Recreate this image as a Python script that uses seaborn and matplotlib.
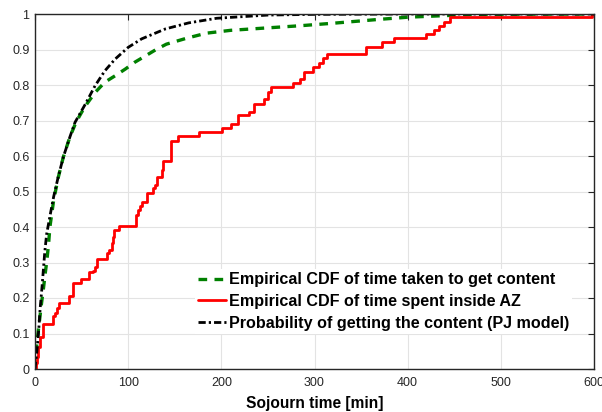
import matplotlib
matplotlib.use("Agg")
import matplotlib.pyplot as plt
import seaborn as sns
import pandas as pd

# --- data ---
red_t = [0, 1.1, 2.5, 3.6, 5.4, 8.2, 19.7, 21.5, 23.3, 26.1, 36.9, 41.2, 49.4, 58.3, 61.9,
         64.4, 66.9, 77.6, 79.8, 82.3, 84.1, 85.2, 90.2, 108.4, 110.2, 112.7, 114.5, 119.9,
         127.0, 128.8, 131.3, 136.0, 137.7, 146.0, 153.9, 176.4, 200.4, 210.0, 217.5, 230.0,
         235.3, 246.3, 250.6, 253.1, 277.4, 283.9, 288.2, 298.2, 304.3, 309.0, 313.1, 355.3,
         372.1, 385.4, 419.7, 428.3, 434.0, 439.4, 445.4, 598.0]
red_p = [0, 0.016, 0.035, 0.063, 0.091, 0.127, 0.149, 0.157, 0.171, 0.185, 0.207, 0.243,
         0.254, 0.274, 0.276, 0.288, 0.309, 0.326, 0.335, 0.354, 0.373, 0.392, 0.403, 0.434,
         0.448, 0.459, 0.471, 0.495, 0.509, 0.518, 0.540, 0.561, 0.587, 0.643, 0.656, 0.667,
         0.678, 0.690, 0.715, 0.725, 0.746, 0.760, 0.781, 0.793, 0.807, 0.816, 0.838, 0.852,
         0.863, 0.875, 0.887, 0.908, 0.920, 0.931, 0.944, 0.955, 0.966, 0.978, 0.991, 1.0]

green_t = [0, 1, 2.5, 5, 7, 9, 11, 12.5, 14.5, 16, 20, 25, 30.5, 37.5, 44, 50, 56, 64.5, 75,
           86, 97, 107, 116, 130, 141, 163, 184, 210, 250, 285, 320, 370, 400, 445, 470, 600]
green_p = [0, 0.04, 0.085, 0.14, 0.185, 0.225, 0.27, 0.30, 0.35, 0.40, 0.475, 0.54, 0.598,
           0.654, 0.695, 0.723, 0.748, 0.779, 0.808, 0.826, 0.845, 0.864, 0.878, 0.900, 0.915,
           0.932, 0.946, 0.954, 0.961, 0.967, 0.974, 0.985, 0.991, 0.996, 0.999, 1.0]

black_t = [0, 2, 4, 5.5, 7.5, 9, 10.5, 12.5, 16, 20, 25, 30.5, 37.5, 43, 54, 64.5, 75, 86,
           100, 114.5, 140, 165, 195, 250, 300, 400, 600]
black_p = [0, 0.05, 0.11, 0.17, 0.23, 0.28, 0.33, 0.38, 0.43, 0.485, 0.542, 0.598, 0.654,
           0.695, 0.746, 0.798, 0.840, 0.873, 0.906, 0.930, 0.958, 0.975, 0.988, 0.997, 0.999,
           1.0, 1.0]

labels = ["Empirical CDF of time taken to get content",
          "Empirical CDF of time spent inside AZ",
          "Probability of getting the content (PJ model)"]
x_ticks = [0, 100, 200, 300, 400, 500, 600]
y_ticks = [0, 0.1, 0.2, 0.3, 0.4, 0.5, 0.6, 0.7, 0.8, 0.9, 1]
y_tick_labels = ["0", "0.1", "0.2", "0.3", "0.4", "0.5", "0.6", "0.7", "0.8", "0.9", "1"]

sns.set_theme(style="white")
plt.rcParams['font.family'] = ['Liberation Sans', 'DejaVu Sans']

fig = plt.figure(figsize=(6.02, 4.12), dpi=100)
ax = fig.add_axes([35 / 602, 43 / 412, 559 / 602, 355 / 412])

g_df = pd.DataFrame({"t": green_t, "p": green_p})
r_df = pd.DataFrame({"t": red_t, "p": red_p})
b_df = pd.DataFrame({"t": black_t, "p": black_p})

sns.lineplot(data=g_df, x="t", y="p", ax=ax, color="#008000", lw=2.4,
             linestyle=(0, (2.6, 2.2)), label=labels[0], estimator=None, sort=False)
sns.lineplot(data=r_df, x="t", y="p", ax=ax, color="#ff0000", lw=2.0,
             drawstyle="steps-post", label=labels[1], estimator=None, sort=False)
sns.lineplot(data=b_df, x="t", y="p", ax=ax, color="black", lw=2.0,
             linestyle=(0, (2.6, 1.1, 0.8, 1.1)), label=labels[2], estimator=None, sort=False)

ax.set_xlim(0, 600)
ax.set_ylim(0, 1)
ax.set_xticks(x_ticks)
ax.set_xticklabels([str(v) for v in x_ticks])
ax.set_yticks(y_ticks)
ax.set_yticklabels(y_tick_labels)
ax.grid(True, color="#e3e3e3", lw=0.8)
ax.set_axisbelow(True)
for s in ax.spines.values():
    s.set_visible(True)
    s.set_color("#262626")
    s.set_linewidth(1.0)
ax.tick_params(direction="in", length=4, width=0.8, top=True, right=True,
               labelsize=9, colors="#262626", pad=4)
ax.tick_params(axis="x", pad=6)
ax.set_xlabel("Sojourn time [min]", fontsize=11.2, fontweight="bold", color="black", labelpad=5)
ax.set_ylabel("")

leg = ax.legend(loc="upper left", bbox_to_anchor=(195 / 602, 143 / 412),
                bbox_transform=fig.transFigure, frameon=True, facecolor="white",
                edgecolor="none", framealpha=1.0, fancybox=False,
                prop={"weight": "bold", "size": 11.6}, handlelength=1.7,
                handletextpad=0.2, labelspacing=0.42, borderaxespad=0, borderpad=0.2)
for t in leg.get_texts():
    t.set_color("black")

fig.savefig("out.png", dpi=100)
